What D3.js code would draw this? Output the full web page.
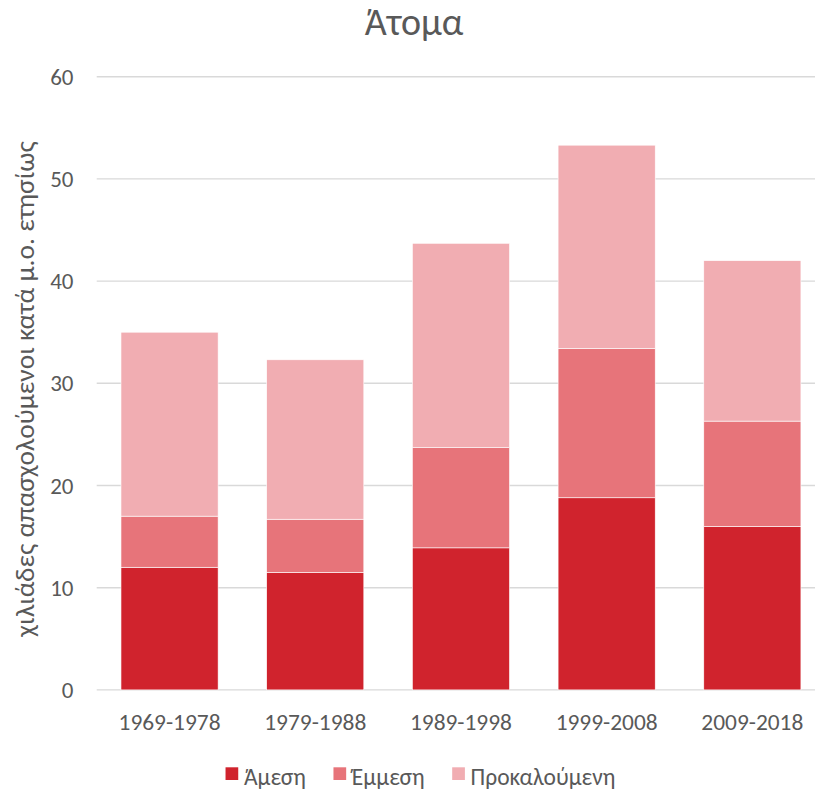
<!DOCTYPE html>
<html>
<head>
<meta charset="utf-8">
<script src="https://cdn.jsdelivr.net/npm/d3@7"></script>
<style>
  html, body { margin: 0; padding: 0; background: #fff; }
  svg { display: block; }
  text { font-family: Carlito, "Liberation Sans", Arial, sans-serif; fill: #595959; }
</style>
</head>
<body>
<svg id="chart" width="815" height="790"></svg>
<script>
const title = "Άτομα";
const yAxisTitle = "χιλιάδες απασχολούμενοι κατά μ.ο. ετησίως";
const categories = ["1969-1978", "1979-1988", "1989-1998", "1999-2008", "2009-2018"];
const seriesNames = ["Άμεση", "Έμμεση", "Προκαλούμενη"];
const direct = [12.0, 11.5, 13.9, 18.8, 16.0];
const indirect = [5.0, 5.2, 9.8, 14.6, 10.3];
const induced = [18.0, 15.6, 20.0, 19.9, 15.7];
const yTicks = [0, 10, 20, 30, 40, 50, 60];
const colors = ["#D0232D", "#E7747A", "#F1ADB2"];

const svg = d3.select("#chart");
const mLeft = 96.7, mRight = 825.2, mTop = 76.7, mBottom = 689.9;

const x = d3.scaleBand().domain(categories).range([mLeft, mRight])
  .paddingInner(1/3).paddingOuter(1/6);
const y = d3.scaleLinear().domain([0, 60]).range([mBottom, mTop]);

const rows = categories.map((c, i) => ({cat: c, "Άμεση": direct[i], "Έμμεση": indirect[i], "Προκαλούμενη": induced[i]}));
const stacked = d3.stack().keys(seriesNames)(rows);

// gridlines
svg.append("g").selectAll("line").data(yTicks).join("line")
  .attr("x1", mLeft).attr("x2", mRight)
  .attr("y1", d => y(d)).attr("y2", d => y(d))
  .attr("stroke", "#d9d9d9").attr("stroke-width", 1.4);

// y tick labels
svg.append("g").selectAll("text").data(yTicks).join("text")
  .attr("x", 73.5).attr("y", d => y(d)).attr("dy", "0.35em")
  .attr("text-anchor", "end").attr("font-size", 23).text(d => d);

// bars
svg.append("g").selectAll("g").data(stacked).join("g")
  .attr("fill", (d, i) => colors[i])
  .selectAll("rect").data(d => d).join("rect")
  .attr("x", d => x(d.data.cat))
  .attr("width", x.bandwidth())
  .attr("y", d => y(d[1]))
  .attr("height", d => y(d[0]) - y(d[1]))
  .attr("stroke", "#fff").attr("stroke-width", 0.6);

// x labels
svg.append("g").selectAll("text").data(categories).join("text")
  .attr("x", d => x(d) + x.bandwidth() / 2).attr("y", 730)
  .attr("text-anchor", "middle").attr("font-size", 23.4).text(d => d);

// title
svg.append("text").attr("x", 414).attr("y", 35).attr("text-anchor", "middle")
  .attr("font-size", 38).text(title);

// y axis title
svg.append("text").attr("transform", `translate(34, 389) rotate(-90)`)
  .attr("text-anchor", "middle").attr("font-size", 27.5).text(yAxisTitle);

// legend
const lg = svg.append("g");
const items = lg.selectAll("g").data(seriesNames).join("g");
items.append("rect").attr("width", 12.7).attr("height", 12.7).attr("y", 767.3)
  .attr("fill", (d, i) => colors[i]);
items.append("text").attr("x", 18.4).attr("y", 785).attr("font-size", 23.5).text(d => d);
const widths = [];
items.each(function() { widths.push(this.querySelector("text").getComputedTextLength()); });
const gap = 27.5;
const total = widths.reduce((a, w) => a + 18.4 + w, 0) + gap * (widths.length - 1);
let start = 420.5 - total / 2;
items.attr("transform", (d, i) => {
  const t = `translate(${start},0)`;
  start += 18.4 + widths[i] + gap;
  return t;
});
</script>
</body>
</html>
